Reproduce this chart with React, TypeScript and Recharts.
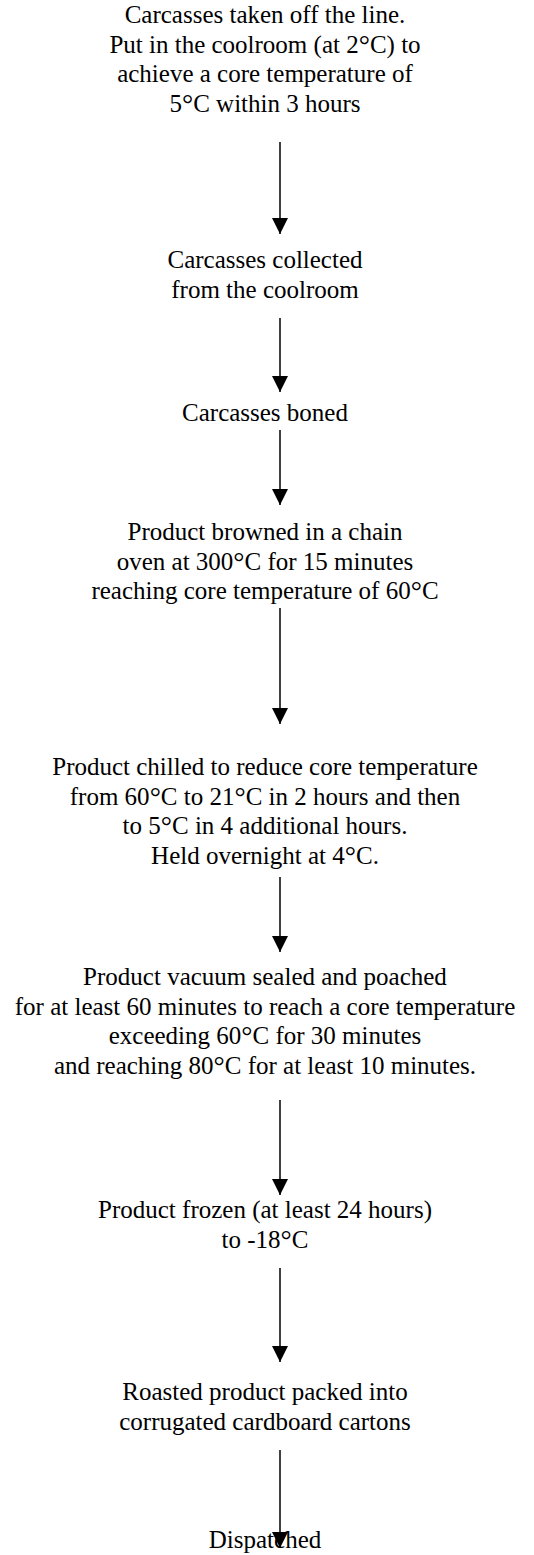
import { ScatterChart, Scatter, XAxis, YAxis } from "recharts";

// Process flow steps, top to bottom
const stepLines: string[][] = [
  [
    "Carcasses taken off the line.",
    "Put in the coolroom (at 2°C) to",
    "achieve a core temperature of",
    "5°C within 3 hours",
  ],
  ["Carcasses collected", "from the coolroom"],
  ["Carcasses boned"],
  [
    "Product browned in a chain",
    "oven at 300°C for 15 minutes",
    "reaching core temperature of 60°C",
  ],
  [
    "Product chilled to reduce core temperature",
    "from 60°C to 21°C in 2 hours and then",
    "to 5°C in 4 additional hours.",
    "Held overnight at 4°C.",
  ],
  [
    "Product vacuum sealed and poached",
    "for at least 60 minutes to reach a core temperature",
    "exceeding  60°C for 30 minutes",
    "and reaching  80°C for at least 10 minutes.",
  ],
  ["Product frozen (at least 24 hours)", "to -18°C"],
  ["Roasted product packed into", "corrugated cardboard cartons"],
  ["Dispatched"],
];

// vertical level of each step (first text baseline)
const stepLevels = [23, 268, 421, 540, 775, 985, 1218, 1400, 1548];

// arrows between steps: where each starts and where its head ends
const arrowTails = [142, 318, 430, 608, 877, 1100, 1268, 1450];
const arrowTips = [234, 392, 505, 724, 952, 1195, 1362, 1548];

const WIDTH = 534;
const HEIGHT = 1555;
const TEXT_X = 265;
const FLOW_X = 280;
const FONT = "'Liberation Serif', 'Times New Roman', serif";
const FONT_SIZE = 25;
const LINE_STEP = 29.5;

const textData = stepLines.map((lines, i) => ({ x: TEXT_X, y: stepLevels[i], lines }));

const arrowData = arrowTails.map((tail, i) => [
  { x: FLOW_X, y: tail, tip: false },
  { x: FLOW_X, y: arrowTips[i], tip: true },
]);

// the degree ring in the source is a larger Symbol-font circle
function renderLine(line: string) {
  const parts = line.split("°");
  const out: any[] = [];
  parts.forEach((p, i) => {
    if (i > 0) {
      out.push(
        <tspan key={`d${i}`} fontSize={28} dy={1}>
          °
        </tspan>
      );
      out.push(
        <tspan key={`p${i}`} dy={-1}>
          {p}
        </tspan>
      );
    } else if (p) {
      out.push(<tspan key={`p${i}`}>{p}</tspan>);
    }
  });
  return out;
}

function StepText(props: any) {
  const { cx, cy, payload } = props;
  if (cx == null || cy == null) return null;
  return (
    <text x={cx} y={cy} textAnchor="middle" fontFamily={FONT} fontSize={FONT_SIZE} fill="#000">
      {payload.lines.map((line: string, i: number) => (
        <tspan key={i} x={cx} dy={i === 0 ? 0 : LINE_STEP}>
          {renderLine(line)}
        </tspan>
      ))}
    </text>
  );
}

function ArrowHead(props: any) {
  const { cx, cy, payload } = props;
  if (!payload?.tip || cx == null) return <g />;
  return <polygon points={`${cx - 8},${cy - 16} ${cx + 8},${cy - 16} ${cx},${cy}`} fill="#000" />;
}

export default function App() {
  return (
    <div style={{ width: WIDTH, height: HEIGHT, background: "#fff" }}>
      <style>{"body{margin:0}"}</style>
      <ScatterChart width={WIDTH} height={HEIGHT} margin={{ top: 0, right: 0, bottom: 0, left: 0 }}>
        <XAxis type="number" dataKey="x" domain={[0, WIDTH]} hide allowDataOverflow />
        <YAxis type="number" dataKey="y" domain={[0, HEIGHT]} reversed hide allowDataOverflow />
        <Scatter data={textData} shape={StepText} isAnimationActive={false} />
        {arrowData.map((pts, i) => (
          <Scatter
            key={i}
            data={pts}
            line={{ stroke: "#000", strokeWidth: 1.5 }}
            shape={ArrowHead}
            isAnimationActive={false}
          />
        ))}
      </ScatterChart>
    </div>
  );
}
